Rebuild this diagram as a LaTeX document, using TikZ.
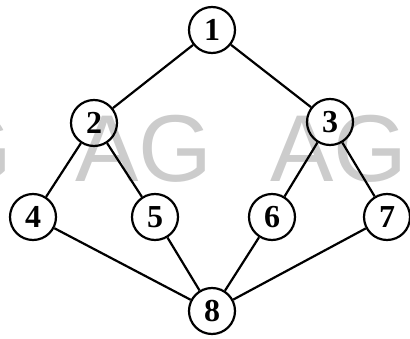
\documentclass[tikz,border=0pt]{standalone}
\usepackage{fontspec}
\setmainfont{Liberation Serif}
\newfontfamily\wmfont{Liberation Sans}
\begin{document}
\begin{tikzpicture}[x=1pt,y=1pt,
  vtx/.style={circle,draw=black,line width=2.2pt,minimum size=46pt,inner sep=0pt,
    font=\fontsize{32}{32}\selectfont\bfseries},
  edge/.style={line width=2.2pt,black},
  wm/.style={text=black!20,font=\wmfont\fontsize{95}{95}\selectfont,inner sep=0pt,anchor=base west}]
\useasboundingbox (0,0) rectangle (410,338);
% watermark
\node[wm] (w0) at (-62,157) {G};
\node[wm] (w1) at (75,157) {AG};
\node[wm] (w2) at (270,157) {AG};
% vertices
\node[vtx] (n1) at (212,308) {1};
\node[vtx] (n2) at (94,215) {2};
\node[vtx] (n3) at (330,216) {3};
\node[vtx] (n4) at (33,121) {4};
\node[vtx] (n5) at (155,121) {5};
\node[vtx] (n6) at (272,121) {6};
\node[vtx] (n7) at (387,121) {7};
\node[vtx] (n8) at (212,27) {8};
% edges
\draw[edge] (n1) -- (n2);
\draw[edge] (n1) -- (n3);
\draw[edge] (n2) -- (n4);
\draw[edge] (n2) -- (n5);
\draw[edge] (n3) -- (n6);
\draw[edge] (n3) -- (n7);
\draw[edge] (n4) -- (n8);
\draw[edge] (n5) -- (n8);
\draw[edge] (n6) -- (n8);
\draw[edge] (n7) -- (n8);
\end{tikzpicture}
\end{document}
